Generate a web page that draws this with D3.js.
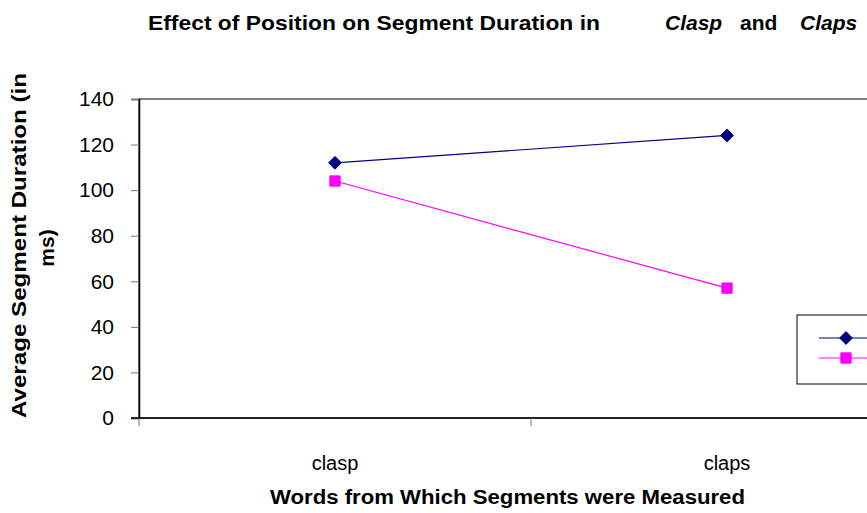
<!DOCTYPE html>
<html>
<head>
<meta charset="utf-8">
<script src="https://cdn.jsdelivr.net/npm/d3@7"></script>
<style>
  body { margin: 0; background: #fff; }
  svg { display: block; font-family: "Liberation Sans", Arial, sans-serif; }
</style>
</head>
<body>
<div id="chart"></div>
<script>
// data
var words = ['clasp', 'claps'];
var seriesNames = ['Initial', 'Final'];
var initialValues = [112, 124];
var finalValues = [104, 57];
var yTicks = [0, 20, 40, 60, 80, 100, 120, 140];

var svgWidth = 867;
var svgHeight = 513;

var margin = { top: 99, left: 139, bottom: 95, right: 0 };
var width = 784;            // plot runs past the right edge, as in the picture
var height = svgHeight - margin.top - margin.bottom;

var svg = d3.select('#chart')
    .append('svg')
    .attr('width', svgWidth)
    .attr('height', svgHeight);

var chartGroup = svg.append('g')
    .attr('transform', `translate(${margin.left}, ${margin.top})`);

var xScale = d3.scaleBand()
    .domain(words)
    .range([0, width]);

var yScale = d3.scaleLinear()
    .domain([0, 140])
    .range([height, 0]);

// plot frame (top + right)
chartGroup.append('rect')
    .attr('x', 0)
    .attr('y', 0)
    .attr('width', width)
    .attr('height', height)
    .attr('fill', 'none')
    .attr('stroke', '#000')
    .attr('stroke-width', 1);

// y axis
var yAxis = chartGroup.append('g')
    .call(d3.axisLeft(yScale).tickValues(yTicks).tickSize(8).tickPadding(17));
yAxis.select('.domain').attr('stroke-width', 1.5);
yAxis.selectAll('.tick line').attr('stroke', '#777');
yAxis.selectAll('text')
    .attr('font-size', 21)
    .attr('fill', '#000')
    .attr('font-family', '"Liberation Sans", Arial, sans-serif');

// x axis: ticks between categories
var xAxis = chartGroup.append('g')
    .attr('transform', `translate(0,${height})`);
xAxis.append('line')
    .attr('x1', -8).attr('x2', width)
    .attr('stroke', '#000')
    .attr('stroke-width', 1.5);
xAxis.selectAll('line.tick')
    .data(words.concat(['end']))
    .enter()
    .append('line')
    .attr('class', 'tick')
    .attr('x1', (d, i) => i * xScale.bandwidth())
    .attr('x2', (d, i) => i * xScale.bandwidth())
    .attr('y1', 0)
    .attr('y2', 8)
    .attr('stroke', '#777');
xAxis.selectAll('text')
    .data(words)
    .enter()
    .append('text')
    .attr('x', d => xScale(d) + xScale.bandwidth() / 2)
    .attr('y', 52)
    .attr('text-anchor', 'middle')
    .attr('font-size', 20)
    .text(d => d);

// lines
var series = [
    { name: seriesNames[0], values: initialValues, color: '#000080' },
    { name: seriesNames[1], values: finalValues, color: '#ff00ff' }
];

var line = d3.line()
    .x((d, i) => xScale(words[i]) + xScale.bandwidth() / 2)
    .y(d => yScale(d));

var markSymbol = k => d3.symbol()
    .type(k === 0 ? d3.symbolDiamond2 : d3.symbolSquare2)
    .size(k === 0 ? 105 : 135);

series.forEach(function(s, k) {
    chartGroup.append('path')
        .datum(s.values)
        .attr('d', line)
        .attr('fill', 'none')
        .attr('stroke', s.color)
        .attr('stroke-width', 1.2);

    chartGroup.selectAll('.mark' + k)
        .data(s.values)
        .enter()
        .append('path')
        .attr('class', 'mark' + k)
        .attr('d', markSymbol(k))
        .attr('transform', (d, i) => `translate(${xScale(words[i]) + xScale.bandwidth() / 2},${yScale(d)})`)
        .attr('fill', s.color)
        .attr('stroke', s.color)
        .attr('stroke-width', 1);
});

// legend, cut off by the right edge like the picture
var legend = svg.append('g')
    .attr('transform', 'translate(797,315)');
legend.append('rect')
    .attr('width', 120)
    .attr('height', 69)
    .attr('fill', '#fff')
    .attr('stroke', '#000')
    .attr('stroke-width', 1);
series.forEach(function(s, k) {
    var ly = 23 + k * 20;
    legend.append('line')
        .attr('x1', 22).attr('x2', 70)
        .attr('y1', ly).attr('y2', ly)
        .attr('stroke', s.color)
        .attr('stroke-width', 1.2);
    legend.append('path')
        .attr('d', markSymbol(k))
        .attr('transform', `translate(49,${ly})`)
        .attr('fill', s.color)
        .attr('stroke', s.color)
        .attr('stroke-width', 1);
});

// title
var title = svg.append('text')
    .attr('y', 30)
    .attr('font-size', 21)
    .attr('font-weight', 'bold');
title.append('tspan').attr('x', 148).attr('textLength', 452).attr('lengthAdjust', 'spacingAndGlyphs')
    .text('Effect of Position on Segment Duration in');
title.append('tspan').attr('x', 665).attr('font-style', 'italic').text('Clasp');
title.append('tspan').attr('x', 740).text('and');
title.append('tspan').attr('x', 800).attr('font-style', 'italic').text('Claps');

// axis titles
svg.append('text')
    .attr('x', 270)
    .attr('y', 504)
    .attr('font-size', 20)
    .attr('font-weight', 'bold')
    .attr('textLength', 475)
    .attr('lengthAdjust', 'spacingAndGlyphs')
    .text('Words from Which Segments were Measured');

var yLabel = svg.append('text')
    .attr('transform', 'rotate(-90)')
    .attr('font-size', 21)
    .attr('font-weight', 'bold');
yLabel.append('tspan').attr('x', -418).attr('y', 26)
    .attr('textLength', 345).attr('lengthAdjust', 'spacingAndGlyphs')
    .text('Average Segment Duration (in');
yLabel.append('tspan').attr('x', -248).attr('y', 54).attr('text-anchor', 'middle').text('ms)');
</script>
</body>
</html>
